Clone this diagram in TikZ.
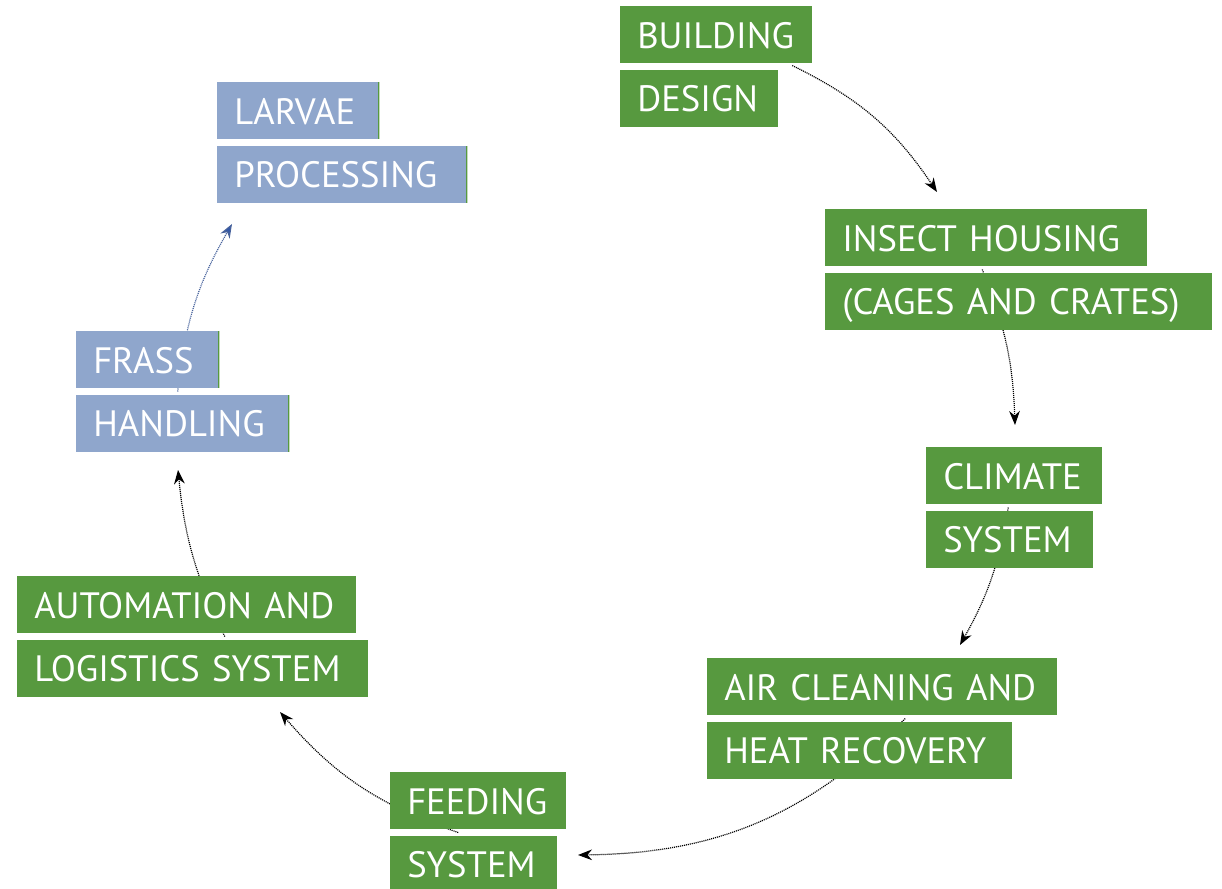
\documentclass[tikz,border=0pt]{standalone}
\usepackage{fontspec}
\setmainfont{PT Sans}
\usetikzlibrary{arrows.meta, positioning, backgrounds, calc}
\definecolor{boxgreen}{HTML}{57993F}
\definecolor{boxblue}{HTML}{8FA6CC}
\definecolor{arrowblue}{HTML}{2F56A8}

\begin{document}
\begin{tikzpicture}[
    x=0.75pt, y=0.75pt,
    node distance=4.5pt,
    boxbase/.style={rectangle, anchor=north west, text=white, align=left, minimum height=42.75pt, inner xsep=12.75pt, inner ysep=0pt, text height=20pt, text depth=0pt, font=\fontsize{27.5}{30}\selectfont, execute at begin node=\hbox\bgroup, execute at end node=\egroup},
    grn/.style={boxbase, fill=boxgreen, text width=#1},
    blu/.style={boxbase, fill=boxblue, text width=#1, path picture={\draw[boxgreen, line width=2pt] (path picture bounding box.north east) -- (path picture bounding box.south east);}},
    flow/.style={black, line width=0.9pt, dash pattern=on 0.8pt off 0.7pt, -{Stealth[length=10.5pt, width=8pt]}}
]
\useasboundingbox (0,0) rectangle (1222,889);

% Building design
\node[grn=118.5pt] (bld1) at (620,883) {BUILDING};
\node[grn=93pt, below=of bld1.south west, anchor=north west] (bld2) {DESIGN};

% Insect housing
\node[grn=216pt] (ins1) at (825,680) {INSECT HOUSING};
\node[grn=264.75pt, below=of ins1.south west, anchor=north west] (ins2) {(CAGES AND CRATES)};

% Climate system
\node[grn=106.5pt] (clm1) at (926,442) {CLIMATE};
\node[grn=99.75pt, below=of clm1.south west, anchor=north west] (clm2) {SYSTEM};

% Air cleaning
\node[grn=237pt] (air1) at (707,231) {AIR CLEANING AND};
\node[grn=203.25pt, below=of air1.south west, anchor=north west] (air2) {HEAT RECOVERY};

% Feeding system
\node[grn=106.5pt] (fed1) at (390,117) {FEEDING};
\node[grn=99.75pt, below=of fed1.south west, anchor=north west] (fed2) {SYSTEM};

% Automation and logistics
\node[grn=228.75pt] (aut1) at (17,313) {AUTOMATION AND};
\node[grn=237.75pt, below=of aut1.south west, anchor=north west] (aut2) {LOGISTICS SYSTEM};

% Frass handling
\node[blu=81.75pt] (frs1) at (76,558) {FRASS};
\node[blu=134.25pt, below=of frs1.south west, anchor=north west] (frs2) {HANDLING};

% Larvae processing
\node[blu=96pt] (lrv1) at (217,807) {LARVAE};
\node[blu=162pt, below=of lrv1.south west, anchor=north west] (lrv2) {PROCESSING};

% Arrow ends
\coordinate (e1) at (937,697);
\coordinate (e2) at (1015,464);
\coordinate (e3) at (960,244);
\coordinate (e4) at (578,34);
\coordinate (e5) at (280,177);
\coordinate (e6) at (178,419);
\coordinate (e7) at (232,665);

% Arrows
\begin{scope}[on background layer]
\draw[flow] ($(bld1.south)+(76,-2)$) to[bend left=15] (e1);
\draw[flow] ($(ins1.south)+(-4,-3)$) to[bend left=10] (e2);
\draw[flow] ($(clm1.south)+(-6,-3)$) to[bend left=10] (e3);
\draw[flow] ($(air1.south)+(23,-3)$) to[bend left=22] (e4);
\draw[flow] ($(fed1.south)+(-20,-3)$) to[bend left=15] (e5);
\draw[flow] ($(aut1.south)+(38,-3)$) to[bend left=10] (e6);
\draw[flow, arrowblue!70!gray, -{Stealth[length=10.5pt, width=8pt, fill=arrowblue]}] ($(frs1.south)+(30,-3)$) to[bend left=12] (e7);
\end{scope}

\end{tikzpicture}
\end{document}
